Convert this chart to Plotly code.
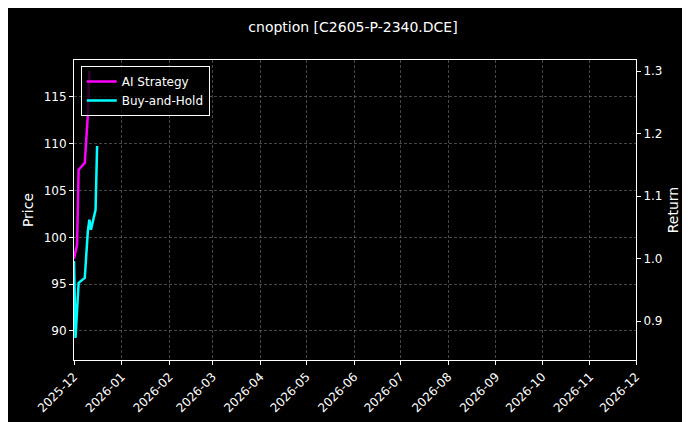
import plotly.graph_objects as go

ai_dates = ["2025-12-01", "2025-12-03", "2025-12-04", "2025-12-08", "2025-12-10", "2025-12-11"]
ai_ret = [1.000, 1.022, 1.142, 1.153, 1.230, 1.300]
bh_dates = ["2025-12-01", "2025-12-02", "2025-12-04", "2025-12-08", "2025-12-10", "2025-12-11",
            "2025-12-12", "2025-12-15", "2025-12-16"]
bh_ret = [0.996, 0.873, 0.961, 0.969, 1.044, 1.062, 1.046, 1.078, 1.180]
tick_vals = ["2025-12-01"] + [f"2026-{m:02d}-01" for m in range(1, 13)]
tick_text = ["2025-12"] + [f"2026-{m:02d}" for m in range(1, 13)]

fig = go.Figure()
fig.add_trace(go.Scatter(x=[ai_dates[0]], y=[98.4], yaxis="y", mode="lines",
                         showlegend=False, hoverinfo="skip", line=dict(width=0)))
fig.add_trace(go.Scatter(x=ai_dates, y=ai_ret, yaxis="y2", mode="lines", name="AI Strategy",
                         line=dict(color="#ff00ff", width=2.5)))
fig.add_trace(go.Scatter(x=bh_dates, y=bh_ret, yaxis="y2", mode="lines", name="Buy-and-Hold",
                         line=dict(color="#00ffff", width=2.5)))

grid = dict(showgrid=True, gridcolor="rgba(128,128,128,0.55)", griddash="3px,2px", gridwidth=0.5)
fig.update_layout(
    width=690, height=422, paper_bgcolor="black", plot_bgcolor="black",
    font=dict(family="DejaVu Sans", color="white", size=12),
    title=dict(text="cnoption [C2605-P-2340.DCE]", x=0.5, xanchor="center", y=0.955, yanchor="middle",
               font=dict(size=14)),
    margin=dict(l=66, r=62, t=52, b=70, autoexpand=False),
    xaxis=dict(range=["2025-12-01", "2026-12-01"], tickvals=tick_vals, ticktext=tick_text,
               tickangle=-45, ticks="outside", ticklen=4, tickcolor="white", showline=True,
               linecolor="white", mirror=True, zeroline=False, automargin=False, **grid),
    yaxis=dict(title=dict(text="Price", standoff=6), range=[86.9, 118.95], tickvals=[90, 95, 100, 105, 110, 115],
               ticks="outside", ticklen=4, tickcolor="white", zeroline=False, showline=True,
               linecolor="white", automargin=False, **grid),
    yaxis2=dict(title=dict(text="Return", standoff=6), overlaying="y", side="right", range=[0.8376, 1.3176],
                tickvals=[0.9, 1.0, 1.1, 1.2, 1.3], tickformat=".1f", ticks="outside", ticklen=4,
                tickcolor="white", showgrid=False, zeroline=False, showline=True, linecolor="white",
                automargin=False),
    legend=dict(x=0.012, y=0.98, xanchor="left", yanchor="top", bgcolor="rgba(0,0,0,0.8)",
                bordercolor="white", borderwidth=1, font=dict(size=12)),
)
fig.write_html("out.html")
